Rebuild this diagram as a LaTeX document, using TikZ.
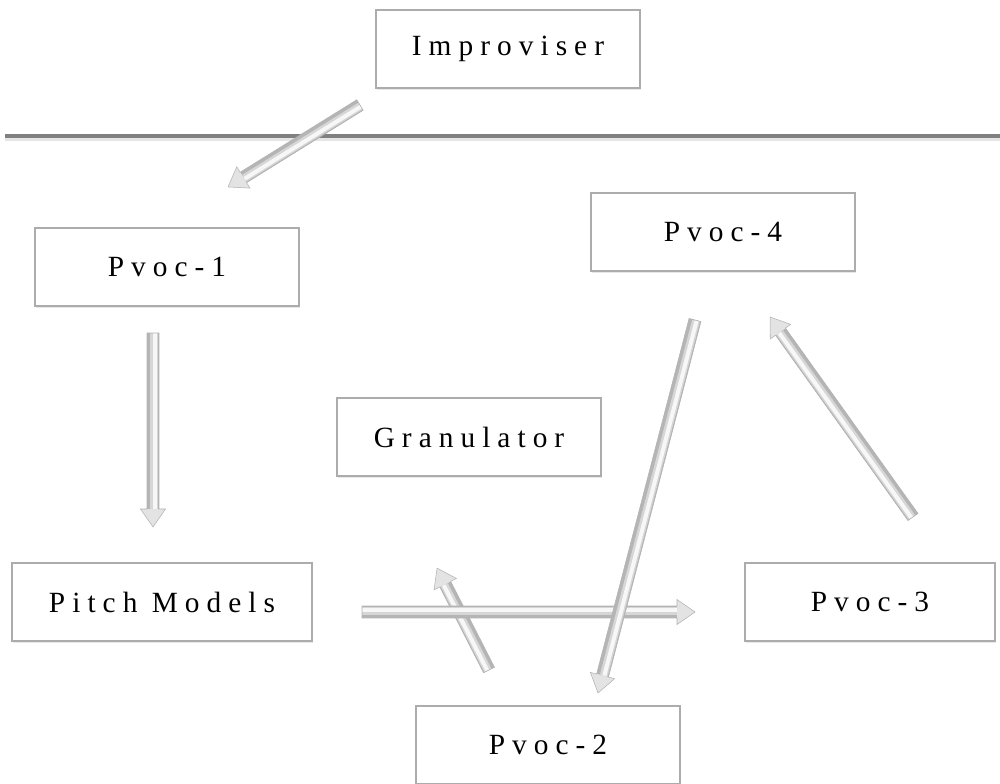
\documentclass[tikz,border=0pt]{standalone}
\usepackage{fontspec}
\newfontfamily\labelfont{Liberation Serif}[LetterSpace=24]
\usetikzlibrary{shadows}

\tikzset{
  box/.style={draw=gray!65, line width=0.9pt, fill=white, rectangle,
    minimum width=198pt, minimum height=58.5pt,
    font=\labelfont\fontsize{22}{26}\selectfont,
    drop shadow={opacity=0.18, shadow xshift=0.8pt, shadow yshift=-1.5pt}},
  arrowedge/.style={draw=gray!60, line width=0.4pt},
  rule/.style={draw=black!50, line width=2.4pt},
}

% hollow block arrow from #1 to #2, with a light streak along the shaft
\newcommand\blockarrow[2]{%
  \pgfpointdiff{\pgfpointanchor{#1}{center}}{\pgfpointanchor{#2}{center}}%
  \pgfgetlastxy\arrdx\arrdy
  \pgfmathsetmacro\arrang{atan2(\arrdy,\arrdx)}%
  \pgfmathsetmacro\arrlen{veclen(\arrdx,\arrdy)}%
  \begin{scope}[shift={(#1)}, rotate=\arrang]
    \fill[gray!58]
      (0pt,-4.6pt) -- (\arrlen pt-13.5pt,-4.6pt) -- (\arrlen pt-13.5pt,4.6pt)
      -- (0pt,4.6pt) -- cycle;
    \fill[gray!22]
      (\arrlen pt-13.5pt,-9.4pt) -- (\arrlen pt,0pt) -- (\arrlen pt-13.5pt,9.4pt) -- cycle;
    \draw[gray!32, line width=6pt] (0.3pt,0.9pt) -- (\arrlen pt-13.8pt,0.9pt);
    \draw[gray!6, line width=3pt] (0.3pt,1.3pt) -- (\arrlen pt-13.8pt,1.3pt);
    \draw[arrowedge]
      (0pt,-4.6pt) -- (\arrlen pt-13.5pt,-4.6pt) -- (\arrlen pt-13.5pt,-9.4pt)
      -- (\arrlen pt,0pt) -- (\arrlen pt-13.5pt,9.4pt) -- (\arrlen pt-13.5pt,4.6pt)
      -- (0pt,4.6pt) -- cycle;
  \end{scope}}

\begin{document}
\begin{tikzpicture}[x=0.75pt,y=-0.75pt]
  \useasboundingbox (0,0) rectangle (1000,784);
  %%
  \draw [draw=gray!20, line width=2pt] (5,139.5) -- (1000,139.5);
  \draw [rule] (5,136) -- (1000,136);
  %%
  \node (improviser) at (508,49) [box] {Improviser};
  \node (pvoc1) at (167,267) [box] {Pvoc-1};
  \node (pvoc4) at (723,232) [box] {Pvoc-4};
  \node (granulator) at (469,437) [box] {Granulator};
  \node (pitchmodels) at (162,602) [box, minimum width=225pt] {Pitch Models};
  \node (pvoc3) at (870,602) [box, minimum width=187.5pt] {Pvoc-3};
  \node (pvoc2) at (548,745) [box] {Pvoc-2};
  %%
  \coordinate (improviser-out) at (360,105);
  \coordinate (pvoc1-in) at (228,187);
  \coordinate (pvoc1-out) at (153,333);
  \coordinate (pitchmodels-in) at (153,527);
  \coordinate (pitchmodels-out) at (362,612);
  \coordinate (pvoc3-in) at (695,612);
  \coordinate (pvoc2-out) at (489,670);
  \coordinate (granulator-in) at (437,568);
  \coordinate (pvoc4-out) at (695,320);
  \coordinate (pvoc2-in) at (598,693);
  \coordinate (pvoc3-out) at (913,517);
  \coordinate (pvoc4-in) at (770,317);
  %%
  \blockarrow{improviser-out}{pvoc1-in}
  \blockarrow{pvoc1-out}{pitchmodels-in}
  \blockarrow{pvoc2-out}{granulator-in}
  \blockarrow{pitchmodels-out}{pvoc3-in}
  \blockarrow{pvoc4-out}{pvoc2-in}
  \blockarrow{pvoc3-out}{pvoc4-in}
  %
\end{tikzpicture}
\end{document}
